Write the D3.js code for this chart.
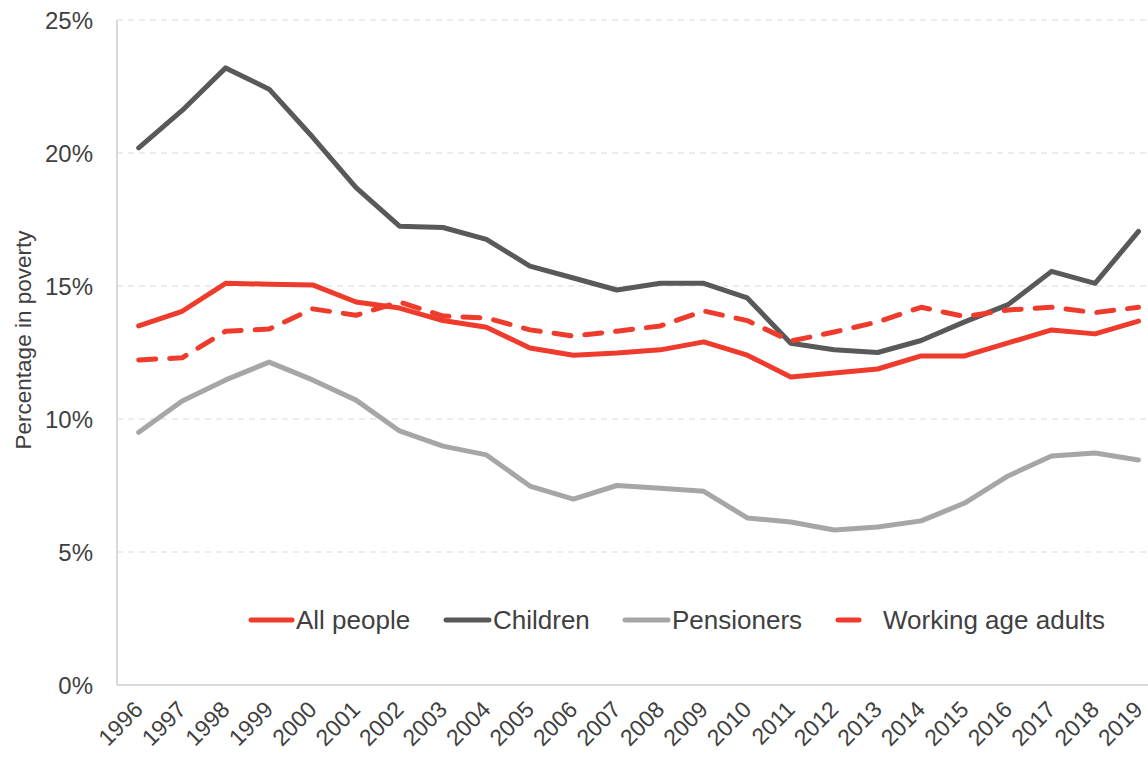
<!DOCTYPE html>
<html>
<head>
<meta charset="utf-8">
<script src="https://cdn.jsdelivr.net/npm/d3@7"></script>
<style>
  body { margin: 0; background: #fff; }
  text { font-family: "Liberation Sans", Arial, sans-serif; fill: #404040; }
</style>
</head>
<body>
<div id="chart"></div>
<script>
var years = ["1996","1997","1998","1999","2000","2001","2002","2003","2004","2005","2006","2007",
             "2008","2009","2010","2011","2012","2013","2014","2015","2016","2017","2018","2019"];

var allPeople = [13.5,14.05,15.1,15.07,15.04,14.4,14.17,13.7,13.45,12.67,12.4,12.48,
                 12.6,12.9,12.4,11.58,11.73,11.88,12.37,12.37,12.86,13.35,13.2,13.68];
var children = [20.19,21.6,23.2,22.4,20.6,18.7,17.25,17.2,16.75,15.75,15.3,14.85,
                15.1,15.1,14.55,12.85,12.6,12.5,12.95,13.65,14.3,15.55,15.1,17.05];
var pensioners = [9.5,10.68,11.47,12.14,11.47,10.71,9.55,8.98,8.65,7.48,6.99,7.5,
                  7.4,7.28,6.28,6.13,5.83,5.94,6.17,6.84,7.86,8.61,8.72,8.46];
var workingAge = [12.22,12.3,13.3,13.38,14.14,13.9,14.4,13.87,13.8,13.35,13.12,13.3,
                  13.5,14.06,13.7,12.93,13.27,13.65,14.2,13.85,14.1,14.2,14.0,14.2];

var yTicks = [0, 5, 10, 15, 20, 25];

var series = [
    {name: "All people", values: allPeople, color: "#ef3b2c", dash: null},
    {name: "Children", values: children, color: "#595959", dash: null},
    {name: "Pensioners", values: pensioners, color: "#a6a6a6", dash: null},
    {name: "Working age adults", values: workingAge, color: "#ef3b2c", dash: "17,14"}
];

var svgWidth = 1148;
var svgHeight = 760;

var svg = d3.select("#chart")
    .append("svg")
    .attr("width", svgWidth)
    .attr("height", svgHeight);

var xScale = d3.scalePoint()
    .domain(years)
    .range([138.7, 1138.5]);

var yScale = d3.scaleLinear()
    .domain([0, 25])
    .range([685, 20]);

// gridlines
svg.append("g")
    .selectAll("line")
    .data(yTicks.filter(d => d > 0))
    .enter()
    .append("line")
    .attr("x1", 117)
    .attr("x2", 1148)
    .attr("y1", d => yScale(d))
    .attr("y2", d => yScale(d))
    .attr("stroke", "#d9d9d9")
    .attr("stroke-width", 1.2)
    .attr("stroke-dasharray", "6,5");

// axis lines
svg.append("line")
    .attr("x1", 117).attr("x2", 117)
    .attr("y1", yScale(25)).attr("y2", yScale(0))
    .attr("stroke", "#d9d9d9").attr("stroke-width", 2);
svg.append("line")
    .attr("x1", 117).attr("x2", 1148)
    .attr("y1", yScale(0)).attr("y2", yScale(0))
    .attr("stroke", "#d9d9d9").attr("stroke-width", 2);

// y axis labels
var leftAxis = d3.axisLeft(yScale)
    .tickValues(yTicks)
    .tickSize(0)
    .tickPadding(0)
    .tickFormat(d => d + "%");
var yAxisG = svg.append("g")
    .attr("transform", "translate(93,0)")
    .call(leftAxis);
yAxisG.select(".domain").remove();
yAxisG.selectAll("text")
    .style("font-size", "24px")
    .attr("fill", "#404040")
    .attr("dy", "0.36em");

// x axis labels
var bottomAxis = d3.axisBottom(xScale).tickSize(0).tickPadding(0);
var xAxisG = svg.append("g")
    .attr("transform", "translate(0,685)")
    .call(bottomAxis);
xAxisG.select(".domain").remove();
xAxisG.selectAll("text")
    .style("font-size", "23px")
    .attr("fill", "#404040")
    .attr("text-anchor", "end")
    .attr("dy", null)
    .attr("y", 0)
    .attr("transform", "translate(5,26) rotate(-45)");

// y title
svg.append("text")
    .attr("transform", "translate(31,340) rotate(-90)")
    .attr("text-anchor", "middle")
    .style("font-size", "22.5px")
    .text("Percentage in poverty");

// lines
var line = d3.line()
    .x((d, i) => xScale(years[i]))
    .y(d => yScale(d));

svg.append("g")
    .selectAll("path")
    .data(series)
    .enter()
    .append("path")
    .attr("d", d => line(d.values))
    .attr("fill", "none")
    .attr("stroke", d => d.color)
    .attr("stroke-width", 5)
    .attr("stroke-linejoin", "round")
    .attr("stroke-linecap", "round")
    .attr("stroke-dasharray", d => d.dash);

// legend
var legendItems = [
    {x1: 251, x2: 292, tx: 296},
    {x1: 446, x2: 489, tx: 493},
    {x1: 625, x2: 668, tx: 672},
    {x1: 838, x2: 859, tx: 883}
];
var legend = svg.append("g");
series.forEach(function(s, i) {
    var it = legendItems[i];
    legend.append("line")
        .attr("x1", it.x1).attr("x2", it.x2)
        .attr("y1", 620).attr("y2", 620)
        .attr("stroke", s.color)
        .attr("stroke-width", 5)
        .attr("stroke-linecap", "round");
    legend.append("text")
        .attr("x", it.tx)
        .attr("y", 620)
        .attr("dy", "0.36em")
        .style("font-size", "26px")
        .text(s.name);
});
</script>
</body>
</html>
